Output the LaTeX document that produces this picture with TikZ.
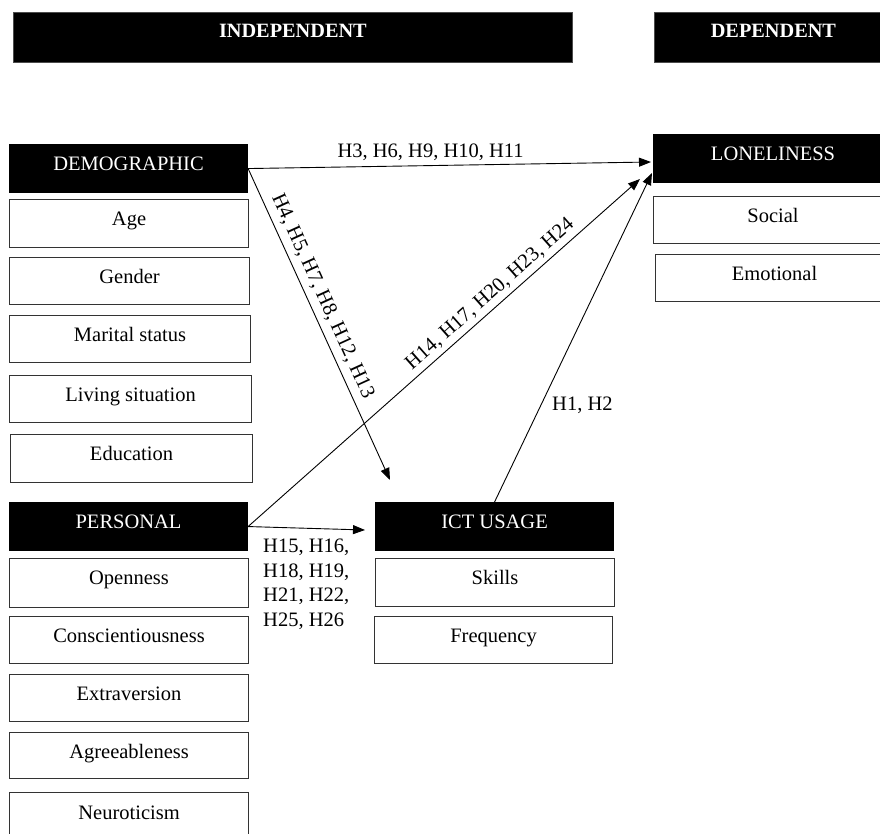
\documentclass[tikz,border=0pt]{standalone}
\usepackage{fontspec}
\setmainfont{Liberation Serif}
\usetikzlibrary{arrows.meta}
\begin{document}
\begin{tikzpicture}[x=1pt,y=-1pt,
  fnt/.style={font=\fontsize{20.5}{24.5}\selectfont},
  wbox/.style={draw=black!80, line width=1.1pt, fill=white, inner sep=0pt, text height=26pt, text depth=22pt, anchor=north west, fnt},
  bbox/.style={wbox, fill=black, draw=black, text=white},
  hdr/.style={fill=black, draw=black!70, line width=0.8pt, inner sep=0pt, text height=25pt, text depth=25pt, anchor=north west, text=white, font=\fontsize{20.3}{24}\selectfont\bfseries},
  conn/.style={line width=0.9pt, -{Triangle[length=12pt,width=9pt]}},
  lbl/.style={fnt, inner sep=0pt}
]
\useasboundingbox (0,0) rectangle (880,834);
\clip (0,0) rectangle (880,834);

% headers
\node[hdr, minimum width=559pt] (hindep) at (13,12) {INDEPENDENT};
\node[hdr, minimum width=238pt] (hdep) at (654,12) {DEPENDENT};

% demographic
\node[bbox, minimum width=238pt] (demo) at (9,144) {DEMOGRAPHIC};
\node[wbox, minimum width=239pt] (age) at (9,199) {Age};
\node[wbox, minimum width=240pt, text depth=21pt] (gender) at (9,257) {Gender};
\node[wbox, minimum width=241pt, text depth=21pt] (marital) at (9,315) {Marital status};
\node[wbox, minimum width=242pt, text depth=21pt] (living) at (9,375) {Living situation};
\node[wbox, minimum width=242pt] (edu) at (10,434) {Education};

% personal
\node[bbox, minimum width=238pt] (pers) at (9,502) {PERSONAL};
\node[wbox, minimum width=239pt, text depth=23pt] (open) at (9,558) {Openness};
\node[wbox, minimum width=239pt, text depth=21pt] (consc) at (9,616) {Conscientiousness};
\node[wbox, minimum width=239pt, text depth=21pt] (extra) at (9,674) {Extraversion};
\node[wbox, minimum width=239pt, text depth=20pt] (agree) at (9,732) {Agreeableness};
\node[wbox, minimum width=239pt, text height=27pt] (neuro) at (9,792) {Neuroticism};

% ICT usage
\node[bbox, minimum width=238pt] (ict) at (375,502) {ICT USAGE};
\node[wbox, minimum width=239pt] (skills) at (375,558) {Skills};
\node[wbox, minimum width=238pt, text depth=21pt] (freq) at (374,616) {Frequency};

% loneliness
\node[bbox, minimum width=239pt] (lone) at (653,134) {LONELINESS};
\node[wbox, minimum width=239pt, text depth=21pt] (social) at (653,196) {Social};
\node[wbox, minimum width=238pt, text depth=21pt] (emo) at (655,254) {Emotional};

% connector ends
\coordinate (tipA) at (651,162);
\coordinate (tipB) at (390,480);
\coordinate (tipC) at (640,179);
\coordinate (tipD) at (652,173);
\coordinate (tipE) at (365,530);

\draw[conn] (demo.east) -- node[lbl, pos=0.453, above=4pt] (lA) {H3, H6, H9, H10, H11} (tipA);
\draw[conn] (demo.east) -- node[lbl, pos=0.43, sloped, above=6pt] (lB) {H4, H5, H7, H8, H12, H13} (tipB);
\draw[conn] (pers.east) -- node[lbl, pos=0.64, sloped, above=4.5pt] (lC) {H14, H17, H20, H23, H24} (tipC);
\draw[conn] (ict.north) -- (tipD);
\draw[conn] (pers.east) -- (tipE);

\node[lbl, anchor=base west] (lD) at (552,410) {H1, H2};
\node[lbl, anchor=north west, align=left] (lE) at (263,539) {H15, H16,\\H18, H19,\\H21, H22,\\H25, H26};
\end{tikzpicture}
\end{document}
